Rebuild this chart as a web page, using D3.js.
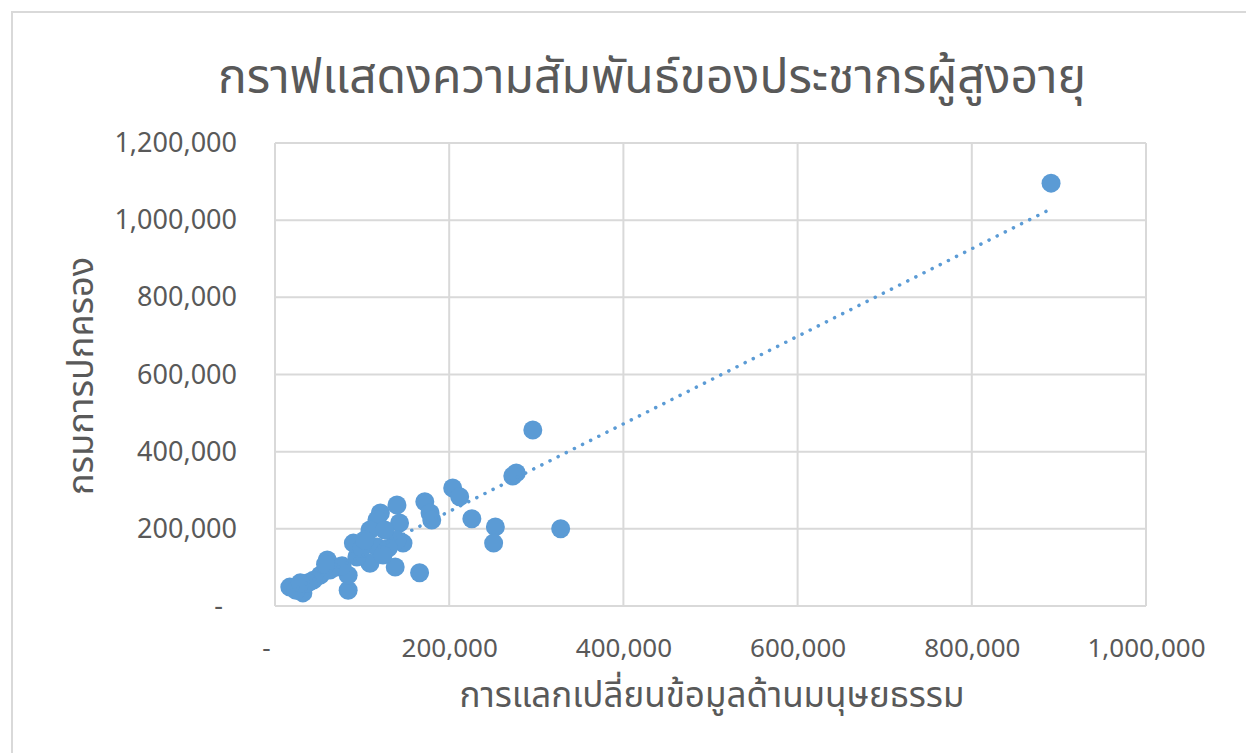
<!DOCTYPE html>
<html><head><meta charset="utf-8">
<script src="https://cdn.jsdelivr.net/npm/d3@7"></script>
<style>
html,body{margin:0;padding:0;background:#fff;}
svg{display:block;}
text{font-family:"Noto Sans Thai","Leelawadee UI","Tahoma","Noto Sans","DejaVu Sans",sans-serif;fill:#595959;}
</style></head>
<body>
<svg id="chart" width="1246" height="753"></svg>
<script>
const title = "กราฟแสดงความสัมพันธ์ของประชากรผู้สูงอายุ";
const xTitle = "การแลกเปลี่ยนข้อมูลด้านมนุษยธรรม";
const yTitle = "กรมการปกครอง";
const xTicks = [0, 200000, 400000, 600000, 800000, 1000000];
const yTicks = [0, 200000, 400000, 600000, 800000, 1000000, 1200000];
// x: การแลกเปลี่ยนข้อมูลด้านมนุษยธรรม, y: กรมการปกครอง
const xValues = [891000, 296000, 277000, 273000, 328000, 253000, 251000, 226000, 204000, 212000,
  172000, 178000, 180000, 166000, 140000, 143000, 147000, 140000, 138000, 121000,
  117000, 109000, 117000, 109000, 94000, 90000, 84000, 84000, 71000, 60000,
  52000, 44000, 32000, 17000, 24000, 38000, 126000, 130000, 100000, 77000,
  63000, 29000, 124000, 103000, 58000];
const yValues = [1096000, 456000, 345000, 337000, 200000, 205000, 163000, 226000, 306000, 283000,
  270000, 241000, 223000, 86000, 262000, 215000, 163000, 171000, 101000, 241000,
  223000, 197000, 153000, 111000, 127000, 163000, 41000, 80000, 101000, 119000,
  80000, 67000, 34000, 49000, 41000, 60000, 197000, 150000, 150000, 104000,
  93000, 60000, 132000, 171000, 108000];

const svg = d3.select("#chart");
const color = "#5B9BD5";
const grid = "#d9d9d9";

// chart frame
svg.append("rect").attr("x", 12).attr("y", 12).attr("width", 1260).attr("height", 780)
  .attr("fill", "#fff").attr("stroke", grid).attr("stroke-width", 2);

const x = d3.scaleLinear().domain([0, 1000000]).range([275, 1146]);
const y = d3.scaleLinear().domain([0, 1200000]).range([606, 143]);

const fmt = v => v === 0 ? "-" : d3.format(",")(v);

// gridlines
svg.append("g").selectAll("line").data(xTicks).join("line")
  .attr("x1", d => x(d)).attr("x2", d => x(d)).attr("y1", y(0)).attr("y2", y(1200000))
  .attr("stroke", grid).attr("stroke-width", 2);
svg.append("g").selectAll("line").data(yTicks).join("line")
  .attr("x1", x(0)).attr("x2", x(1000000)).attr("y1", d => y(d)).attr("y2", d => y(d))
  .attr("stroke", grid).attr("stroke-width", 2);

// axes labels via d3 axes
const xAxis = svg.append("g").attr("transform", `translate(0,${y(0)})`)
  .call(d3.axisBottom(x).tickValues(xTicks).tickFormat(fmt).tickSize(0).tickPadding(33));
xAxis.select(".domain").remove();
xAxis.selectAll("text").attr("font-size", 26).attr("fill", "#595959")
  .attr("font-family", null)
  .attr("dx", d => d === 0 ? -9 : 0);

const yAxis = svg.append("g").attr("transform", `translate(${x(0)},0)`)
  .call(d3.axisLeft(y).tickValues(yTicks).tickFormat(fmt).tickSize(0).tickPadding(38));
yAxis.select(".domain").remove();
yAxis.selectAll("text").attr("font-size", 27).attr("fill", "#595959")
  .attr("font-family", null)
  .attr("dx", d => d === 0 ? -14 : 0);

// trendline (linear least squares, like Excel)
const n = xValues.length;
const mx = d3.mean(xValues), my = d3.mean(yValues);
let sxy = 0, sxx = 0;
for (let i = 0; i < n; i++) { sxy += (xValues[i]-mx)*(yValues[i]-my); sxx += (xValues[i]-mx)**2; }
const slope = sxy / sxx, intercept = my - slope * mx;
const xmin = d3.min(xValues), xmax = d3.max(xValues);

// points
const pts = xValues.map((v, i) => ({x: v, y: yValues[i]}));
svg.append("g").selectAll("circle").data(pts).join("circle")
  .attr("cx", d => x(d.x)).attr("cy", d => y(d.y)).attr("r", 9.5)
  .attr("fill", color);

svg.append("line")
  .attr("x1", x(xmin)).attr("y1", y(intercept + slope * xmin))
  .attr("x2", x(xmax)).attr("y2", y(intercept + slope * xmax))
  .attr("stroke", color).attr("stroke-width", 3.5)
  .attr("stroke-linecap", "round").attr("stroke-dasharray", "0.1 9");

// titles
svg.append("text").attr("x", 652).attr("y", 93).attr("text-anchor", "middle")
  .attr("font-size", 48).text(title);
svg.append("text").attr("x", 712).attr("y", 707).attr("text-anchor", "middle")
  .attr("font-size", 35).text(xTitle);
svg.append("text").attr("transform", "translate(93,376) rotate(-90)").attr("text-anchor", "middle")
  .attr("font-size", 36).text(yTitle);
</script>
</body></html>
